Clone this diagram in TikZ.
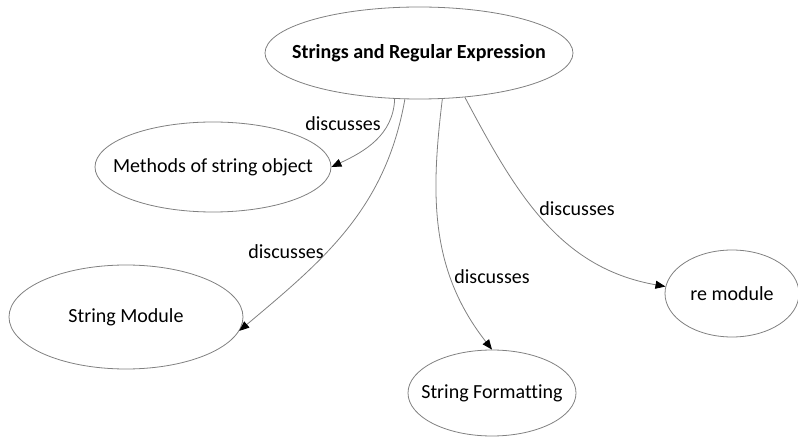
\documentclass[tikz,border=0pt]{standalone}
\usepackage{fontspec}
\setmainfont{Carlito}[Ligatures=CommonOff]
\usetikzlibrary{shapes.geometric,arrows.meta}
\definecolor{linegray}{HTML}{808080}
\tikzset{
  ell/.style={draw=linegray, line width=0.8pt, ellipse, inner sep=0pt},
  conn/.style={draw=linegray, line width=0.8pt, -{Triangle[length=10pt,width=8pt,fill=black,color=black]}},
  lbl/.style={inner sep=0pt, font=\fontsize{20}{24}\selectfont}
}
\begin{document}
\begin{tikzpicture}[x=1pt,y=-1pt]
\useasboundingbox (0,0) rectangle (798,438);
\fontsize{20}{24}\selectfont
\node[ell, minimum width=308pt, minimum height=92pt] (top) at (419,53) {\makebox[0pt]{\textbf{Strings and Regular Expression}}};
\node[ell, minimum width=236pt, minimum height=90pt] (m) at (213,167) {\makebox[0pt]{Methods of string object}};
\node[ell, minimum width=234pt, minimum height=104pt] (sm) at (126,317) {\makebox[0pt]{String Module}};
\node[ell, minimum width=168pt, minimum height=86pt] (sf) at (492,393) {\makebox[0pt]{String Formatting}};
\node[ell, minimum width=134pt, minimum height=87pt] (re) at (732,293.5) {\makebox[0pt]{re module}};

\draw[conn] (top.242) to[out=-92, in=25] (m.east);
\draw[conn] (top.253) to[out=-100, in=40] (sm.353);
\draw[conn] (top.297) to[out=-97, in=128] (sf.north);
\draw[conn] (top.316) to[out=-62, in=170] (re.174);

\node[lbl] (l1) at (343,124) {discusses};
\node[lbl] (l2) at (286,252) {discusses};
\node[lbl] (l3) at (492,277) {discusses};
\node[lbl] (l4) at (577,209) {discusses};
\end{tikzpicture}
\end{document}
